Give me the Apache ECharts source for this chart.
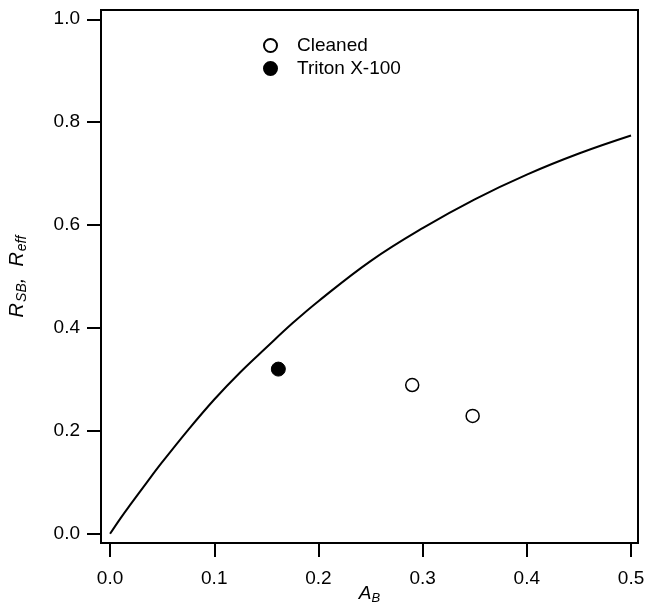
<!DOCTYPE html>
<html>
<head>
<meta charset="utf-8">
<script src="https://cdn.jsdelivr.net/npm/echarts@6/dist/echarts.min.js"></script>
<style>html,body{margin:0;padding:0;background:#fff}#c{width:646px;height:614px}</style>
</head>
<body>
<div id="c"></div>
<script>
// Model curve R_SB vs A_B
var curveA = [0, 0.01, 0.02, 0.035, 0.05, 0.075, 0.1, 0.125, 0.15, 0.175, 0.2, 0.25, 0.3, 0.35, 0.4, 0.45, 0.5];
var curveR = [0, 0.030, 0.058, 0.099, 0.139, 0.202, 0.261, 0.314, 0.362, 0.409, 0.452, 0.530, 0.594, 0.650, 0.698, 0.739, 0.774];
// Cleaned (open circles)
var cleanedA = [0.290, 0.348];
var cleanedR = [0.289, 0.229];
// Triton X-100 (filled circle)
var tritonA = [0.1615];
var tritonR = [0.320];
var xTicks = [0.0, 0.1, 0.2, 0.3, 0.4, 0.5];
var yTicks = [0.0, 0.2, 0.4, 0.6, 0.8, 1.0];

function zip(a, b) { return a.map(function (v, i) { return [v, b[i]]; }); }

var font = 'Liberation Sans, Arial, Helvetica, sans-serif';
var chart = echarts.init(document.getElementById('c'), null, { renderer: 'canvas' });
chart.setOption({
  animation: false,
  backgroundColor: '#fff',
  grid: { left: 101, top: 10, right: 8, bottom: 71, show: true, borderColor: '#000', borderWidth: 2,
    containLabel: false, outerBoundsMode: 'none' },
  legend: {
    orient: 'vertical', left: 258, top: 31,
    itemWidth: 13, itemHeight: 13, itemGap: 4,
    data: ['Cleaned', 'Triton X-100'],
    textStyle: { fontFamily: font, fontSize: 19, color: '#000', padding: [0, 0, 0, 15] }
  },
  xAxis: {
    type: 'value', min: -0.0087, max: 0.5067,
    name: '{i|A}{sub|B}', nameLocation: 'middle', nameGap: 39, nameMoveOverlap: false,
    nameTextStyle: {
      rich: {
        i: { fontFamily: font, fontSize: 19, fontStyle: 'italic', color: '#000' },
        sub: { fontFamily: font, fontSize: 13, fontStyle: 'italic', color: '#000', padding: [10, 0, 0, 0] }
      }
    },
    axisLine: { show: true, onZero: false, lineStyle: { color: '#000', width: 2 } },
    axisTick: { show: true, length: 14, lineStyle: { color: '#000', width: 2 }, customValues: xTicks },
    axisLabel: { customValues: xTicks, margin: 26, fontFamily: font, fontSize: 19, color: '#000',
      formatter: function (v) { return v.toFixed(1); } },
    splitLine: { show: false }
  },
  yAxis: {
    type: 'value', min: -0.018, max: 1.018,
    name: '{i|R}{sub|SB}{i|,  R}{sub|eff}', nameLocation: 'middle', nameGap: 72, nameRotate: 90, nameMoveOverlap: false,
    nameTextStyle: {
      rich: {
        i: { fontFamily: font, fontSize: 20, fontStyle: 'italic', color: '#000' },
        sub: { fontFamily: font, fontSize: 14, fontStyle: 'italic', color: '#000', padding: [10, 0, 0, 1] }
      }
    },
    axisLine: { show: true, onZero: false, lineStyle: { color: '#000', width: 2 } },
    axisTick: { show: true, length: 14, lineStyle: { color: '#000', width: 2 }, customValues: yTicks },
    axisLabel: { customValues: yTicks, margin: 21, fontFamily: font, fontSize: 19, color: '#000',
      formatter: function (v) { return v.toFixed(1); } },
    splitLine: { show: false }
  },
  series: [
    {
      name: 'model', type: 'line', data: zip(curveA, curveR), smooth: 0.4, showSymbol: false,
      lineStyle: { color: '#000', width: 2 }, silent: true
    },
    {
      name: 'Cleaned', type: 'scatter', data: zip(cleanedA, cleanedR), symbol: 'circle', symbolSize: 13,
      itemStyle: { color: '#fff', borderColor: '#000', borderWidth: 1.5, opacity: 1 }
    },
    {
      name: 'Triton X-100', type: 'scatter', data: zip(tritonA, tritonR), symbol: 'circle', symbolSize: 14,
      itemStyle: { color: '#000', borderColor: '#000', borderWidth: 1, opacity: 1 }
    }
  ]
});
</script>
</body>
</html>
